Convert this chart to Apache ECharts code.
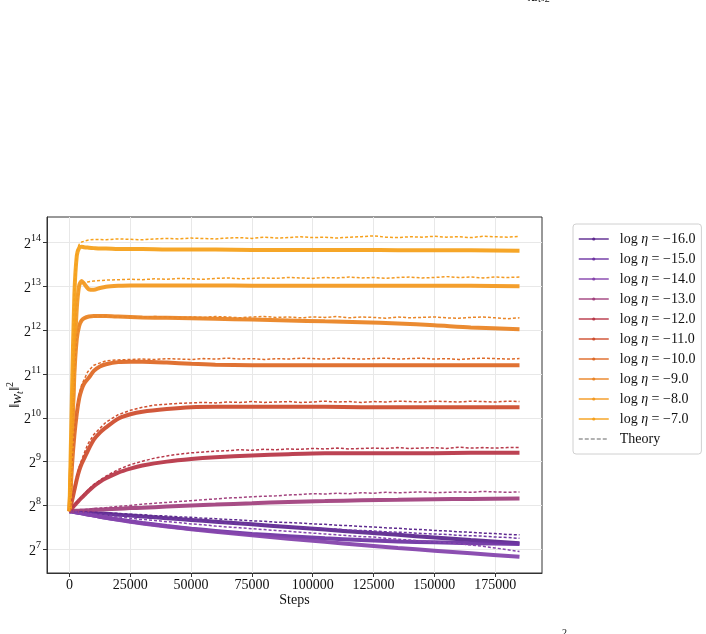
<!DOCTYPE html>
<html lang="en">
<head>
    <meta charset="UTF-8">
    <title>weight norm</title>
    <script src="https://cdn.jsdelivr.net/npm/echarts@6/dist/echarts.min.js"></script>
</head>
<body style="margin: 0; background: #fff">
<div id="main" style="width: 706px;height: 634px"></div>
<script>
    // log eta of each run
    const etas = ['-16.0', '-15.0', '-14.0', '-13.0', '-12.0', '-11.0', '-10.0', '-9.0', '-8.0', '-7.0'];
    const colors = ['#5e2a8f', '#6f36a3', '#8646ad', '#a2437f', '#b8394a', '#cf4f30', '#de6a28', '#ea8526', '#f39a22', '#f6a11c'];

    // tick positions
    const xTicks = [0, 25000, 50000, 75000, 100000, 125000, 150000, 175000];
    const yTicks = [7, 8, 9, 10, 11, 12, 13, 14];

    // measured runs, log2 ||w_t||^2
    const steps = [0, 1000, 2000, 3000, 4000, 5000, 6000, 8000, 10000, 12500, 15000, 20000, 25000, 30000, 40000,
        50000, 60000, 75000, 90000, 105000, 120000, 135000, 150000, 165000, 185000];
    const w16 = [7.87, 7.866, 7.862, 7.858, 7.854, 7.85, 7.846, 7.839, 7.83, 7.82, 7.81, 7.79, 7.77, 7.75, 7.71, 7.67, 7.63, 7.57, 7.51, 7.45, 7.39, 7.33, 7.27, 7.21, 7.14];
    const w15 = [7.87, 7.86, 7.85, 7.84, 7.83, 7.82, 7.81, 7.79, 7.77, 7.745, 7.72, 7.68, 7.64, 7.6, 7.53, 7.47, 7.42, 7.35, 7.3, 7.25, 7.21, 7.18, 7.16, 7.14, 7.12];
    const w14 = [7.87, 7.86, 7.85, 7.84, 7.83, 7.82, 7.81, 7.79, 7.77, 7.745, 7.72, 7.675, 7.63, 7.59, 7.52, 7.46, 7.4, 7.32, 7.24, 7.17, 7.1, 7.03, 6.97, 6.91, 6.83];
    const w13 = [7.87, 7.873, 7.876, 7.879, 7.882, 7.885, 7.888, 7.894, 7.9, 7.907, 7.914, 7.927, 7.94, 7.95, 7.975, 8.0, 8.02, 8.05, 8.08, 8.1, 8.12, 8.13, 8.14, 8.15, 8.16];
    const w12 = [7.87, 7.93, 8.0, 8.06, 8.12, 8.18, 8.23, 8.34, 8.44, 8.54, 8.62, 8.75, 8.84, 8.91, 9.0, 9.06, 9.1, 9.14, 9.17, 9.19, 9.19, 9.19, 9.19, 9.2, 9.2];
    const w11 = [7.87, 8.1, 8.35, 8.6, 8.8, 8.95, 9.07, 9.3, 9.5, 9.66, 9.78, 9.98, 10.08, 10.14, 10.2, 10.24, 10.25, 10.25, 10.25, 10.25, 10.24, 10.24, 10.24, 10.24, 10.24];
    const w10 = [7.87, 8.9, 9.6, 10.1, 10.45, 10.65, 10.78, 10.92, 11.07, 11.17, 11.22, 11.27, 11.28, 11.28, 11.26, 11.23, 11.21, 11.2, 11.2, 11.2, 11.2, 11.2, 11.2, 11.2, 11.2];
    const w9 = [7.87, 9.5, 11.0, 11.8, 12.1, 12.22, 12.27, 12.31, 12.32, 12.32, 12.32, 12.31, 12.3, 12.29, 12.28, 12.27, 12.26, 12.24, 12.22, 12.2, 12.18, 12.15, 12.11, 12.06, 12.02];
    const w8 = [7.87, 9.5, 11.3, 12.5, 13.02, 13.12, 13.06, 12.93, 12.92, 12.96, 12.99, 13.01, 13.02, 13.02, 13.02, 13.02, 13.02, 13.01, 13.01, 13.01, 13.01, 13.01, 13.01, 13.01, 13.0];
    const w7 = [7.87, 10.5, 12.8, 13.7, 13.88, 13.9, 13.89, 13.88, 13.87, 13.86, 13.86, 13.85, 13.85, 13.85, 13.84, 13.84, 13.84, 13.83, 13.83, 13.83, 13.83, 13.82, 13.82, 13.82, 13.81];

    // theory curves, log2 ||w_t||^2
    const tSteps = [0, 1000, 2000, 3000, 4000, 5000, 7500, 10000, 15000, 20000, 25000, 30000, 35000, 40000, 45000,
        50000, 55000, 60000, 65000, 70000, 75000, 80000, 85000, 90000, 95000, 100000, 105000, 110000, 115000,
        120000, 125000, 130000, 135000, 140000, 145000, 150000, 155000, 160000, 165000, 170000, 175000, 180000, 185000];
    const t16 = [7.87, 7.868, 7.865, 7.862, 7.86, 7.857, 7.85, 7.845, 7.83, 7.82, 7.8, 7.79, 7.77, 7.76, 7.74, 7.73, 7.71, 7.7, 7.68, 7.67, 7.65, 7.64, 7.62, 7.61, 7.6, 7.58, 7.57, 7.55, 7.54, 7.52, 7.51, 7.49, 7.48, 7.46, 7.45, 7.43, 7.42, 7.4, 7.39, 7.37, 7.36, 7.34, 7.33];
    const t15 = [7.87, 7.865, 7.86, 7.855, 7.85, 7.845, 7.83, 7.82, 7.8, 7.78, 7.76, 7.74, 7.72, 7.7, 7.68, 7.66, 7.64, 7.62, 7.6, 7.59, 7.57, 7.55, 7.53, 7.52, 7.5, 7.49, 7.47, 7.46, 7.44, 7.43, 7.42, 7.4, 7.39, 7.38, 7.36, 7.35, 7.34, 7.32, 7.31, 7.3, 7.28, 7.27, 7.25];
    const t14 = [7.87, 7.86, 7.855, 7.85, 7.84, 7.835, 7.82, 7.8, 7.77, 7.74, 7.71, 7.68, 7.66, 7.63, 7.61, 7.58, 7.56, 7.53, 7.51, 7.49, 7.47, 7.45, 7.43, 7.41, 7.39, 7.37, 7.35, 7.33, 7.31, 7.29, 7.28, 7.25, 7.23, 7.21, 7.19, 7.17, 7.15, 7.13, 7.1, 7.07, 7.03, 6.99, 6.95];
    const t13 = [7.87, 7.875, 7.88, 7.885, 7.89, 7.895, 7.91, 7.93, 7.95, 7.98, 8.0, 8.03, 8.05, 8.07, 8.09, 8.11, 8.13, 8.15, 8.17, 8.18, 8.2, 8.21, 8.22, 8.24, 8.25, 8.27, 8.26, 8.28, 8.27, 8.29, 8.28, 8.3, 8.29, 8.3, 8.31, 8.29, 8.3, 8.31, 8.3, 8.32, 8.31, 8.3, 8.31];
    const t12 = [7.87, 7.94, 8.01, 8.08, 8.14, 8.2, 8.35, 8.48, 8.67, 8.82, 8.93, 9.01, 9.08, 9.13, 9.17, 9.2, 9.22, 9.24, 9.25, 9.27, 9.26, 9.28, 9.27, 9.29, 9.28, 9.3, 9.29, 9.31, 9.29, 9.3, 9.31, 9.3, 9.32, 9.3, 9.31, 9.32, 9.3, 9.33, 9.31, 9.32, 9.31, 9.32, 9.32];
    const t11 = [7.87, 8.15, 8.42, 8.68, 8.88, 9.04, 9.4, 9.62, 9.9, 10.07, 10.17, 10.24, 10.29, 10.31, 10.33, 10.34, 10.35, 10.34, 10.36, 10.35, 10.37, 10.35, 10.36, 10.37, 10.35, 10.36, 10.38, 10.36, 10.37, 10.35, 10.37, 10.36, 10.38, 10.37, 10.36, 10.38, 10.37, 10.36, 10.38, 10.37, 10.36, 10.38, 10.37];
    const t10 = [7.87, 8.95, 9.7, 10.2, 10.55, 10.75, 11.05, 11.2, 11.3, 11.32, 11.33, 11.34, 11.33, 11.35, 11.34, 11.33, 11.35, 11.34, 11.36, 11.34, 11.35, 11.33, 11.35, 11.34, 11.36, 11.35, 11.34, 11.36, 11.35, 11.34, 11.35, 11.36, 11.34, 11.35, 11.36, 11.34, 11.35, 11.33, 11.35, 11.36, 11.35, 11.34, 11.35];
    const t9 = [7.87, 9.55, 11.05, 11.85, 12.12, 12.23, 12.3, 12.31, 12.32, 12.3, 12.31, 12.29, 12.31, 12.3, 12.28, 12.3, 12.29, 12.31, 12.3, 12.28, 12.3, 12.31, 12.29, 12.3, 12.28, 12.3, 12.29, 12.31, 12.28, 12.3, 12.29, 12.27, 12.3, 12.28, 12.29, 12.3, 12.28, 12.27, 12.29, 12.3, 12.28, 12.26, 12.28];
    const t8 = [7.87, 9.6, 11.5, 12.6, 13.0, 13.08, 13.1, 13.12, 13.14, 13.15, 13.16, 13.15, 13.17, 13.16, 13.18, 13.17, 13.16, 13.18, 13.19, 13.17, 13.18, 13.19, 13.18, 13.2, 13.19, 13.18, 13.2, 13.19, 13.21, 13.19, 13.2, 13.18, 13.2, 13.21, 13.19, 13.2, 13.22, 13.2, 13.21, 13.19, 13.21, 13.2, 13.21];
    const t7 = [7.87, 10.6, 12.9, 13.8, 13.96, 14.01, 14.05, 14.07, 14.06, 14.08, 14.07, 14.06, 14.08, 14.09, 14.08, 14.10, 14.09, 14.08, 14.10, 14.11, 14.09, 14.12, 14.10, 14.11, 14.13, 14.11, 14.12, 14.10, 14.12, 14.13, 14.15, 14.12, 14.11, 14.13, 14.12, 14.14, 14.12, 14.13, 14.11, 14.14, 14.13, 14.12, 14.14];

    const runs = [w16, w15, w14, w13, w12, w11, w10, w9, w8, w7];
    const theory = [t16, t15, t14, t13, t12, t11, t10, t9, t8, t7];

    const serif = 'Liberation Serif';
    const seriesName = e => 'log η = ' + e.replace('-', '−');

    const series = [];
    runs.forEach((run, i) => {
        series.push({
            name: seriesName(etas[i]),
            type: 'line',
            data: steps.map((s, j) => [s, run[j]]),
            color: colors[i],
            smooth: 0.25,
            symbol: 'circle',
            showSymbol: false,
            lineStyle: {width: 4, opacity: 0.95},
            z: 3
        });
    });
    theory.forEach((th, i) => {
        series.push({
            name: 'theory ' + etas[i],
            type: 'line',
            data: tSteps.map((s, j) => [s, th[j]]),
            color: colors[i],
            symbol: 'none',
            lineStyle: {width: 1.5, type: [3, 2]},
            z: 4
        });
    });
    series.push({
        name: 'Theory',
        type: 'line',
        data: [],
        color: '#999',
        symbol: 'none',
        lineStyle: {width: 1.5, type: [4, 2]}
    });

    const legendData = etas.map(seriesName).map(n => ({name: n}));
    legendData.push({name: 'Theory', itemStyle: {opacity: 0}});

    const chart = echarts.init(document.getElementById('main'));
    chart.setOption({
        animation: false,
        backgroundColor: '#fff',
        textStyle: {fontFamily: serif},
        grid: {
            left: 47, top: 217, right: 164, bottom: 61,
            outerBoundsMode: 'none', containLabel: false,
            show: true, borderColor: '#333', borderWidth: 1
        },
        legend: {
            orient: 'vertical',
            left: 573,
            top: 224,
            padding: [7, 6, 7, 5],
            itemGap: 4,
            itemWidth: 30,
            itemHeight: 4,
            borderColor: '#d0d0d0',
            borderWidth: 1,
            borderRadius: 3,
            backgroundColor: '#fff',
            lineStyle: {width: 1.5},
            data: legendData,
            textStyle: {
                fontFamily: serif, fontSize: 14, color: '#111', lineHeight: 16,
                rich: {
                    a: {fontFamily: serif, fontSize: 14, color: '#111', padding: [0, 0, 0, 6], lineHeight: 16},
                    e: {fontFamily: serif, fontSize: 14, color: '#111', fontStyle: 'italic', lineHeight: 16},
                    b: {fontFamily: serif, fontSize: 14, color: '#111', lineHeight: 16}
                }
            },
            formatter: n => {
                if (n === 'Theory') return '{a|Theory}';
                return '{a|log }{e|η}{b| = ' + n.slice(8) + '}';
            }
        },
        xAxis: {
            type: 'value',
            min: -9250,
            max: 194250,
            name: 'Steps',
            nameLocation: 'middle',
            nameGap: 20,
            nameMoveOverlap: false,
            nameTextStyle: {fontFamily: serif, fontSize: 14, color: '#111'},
            axisLine: {onZero: false, lineStyle: {color: '#333'}},
            axisTick: {show: true, length: 4, customValues: xTicks, lineStyle: {color: '#333'}},
            axisLabel: {
                fontFamily: serif, fontSize: 14, color: '#111', margin: 5,
                customValues: xTicks,
                formatter: v => String(v)
            },
            splitLine: {show: true, lineStyle: {color: '#e8e8e8'}}
        },
        yAxis: {
            type: 'value',
            min: 6.46,
            max: 14.58,
            axisLine: {show: true, onZero: false, lineStyle: {color: '#333'}},
            axisTick: {show: true, length: 4, customValues: yTicks, lineStyle: {color: '#333'}},
            axisLabel: {
                margin: 6,
                customValues: yTicks,
                formatter: v => '{b|2}{s|' + Math.round(v) + '}',
                rich: {
                    b: {fontFamily: serif, fontSize: 14, color: '#111', verticalAlign: 'bottom'},
                    s: {fontFamily: serif, fontSize: 10, color: '#111', verticalAlign: 'bottom', padding: [0, 0, 8, 0]}
                }
            },
            splitLine: {show: true, lineStyle: {color: '#e8e8e8'}}
        },
        graphic: [
            {
                // y axis title
                type: 'text', x: 15, y: 395, rotation: Math.PI / 2, silent: true,
                style: {
                    text: '‖{i|w}{t|t}‖{s|2}', fontFamily: serif, fontSize: 15, fill: '#111',
                    align: 'center', verticalAlign: 'middle',
                    rich: {
                        i: {fontFamily: serif, fontSize: 15, fontStyle: 'italic', fill: '#111', verticalAlign: 'bottom'},
                        t: {fontFamily: serif, fontSize: 10, fontStyle: 'italic', fill: '#111', verticalAlign: 'bottom', padding: [0, 0, 0, 0]},
                        s: {fontFamily: serif, fontSize: 10, fill: '#111', verticalAlign: 'bottom', padding: [0, 0, 10, 0]}
                    }
                }
            },
            {
                type: 'text', left: 527, top: -10, silent: true,
                style: {
                    text: '‖{i|a}{t|t}‖{t|2}', fontFamily: serif, fontSize: 14, fill: '#111',
                    rich: {
                        i: {fontFamily: serif, fontSize: 14, fontStyle: 'italic', fill: '#111'},
                        t: {fontFamily: serif, fontSize: 10, fill: '#111', padding: [5, 0, 0, 0]}
                    }
                }
            },
            {
                type: 'text', left: 562, top: 628, silent: true,
                style: {text: '2', fontFamily: serif, fontSize: 10, fill: '#111'}
            }
        ],
        series: series
    });
</script>
</body>
</html>
